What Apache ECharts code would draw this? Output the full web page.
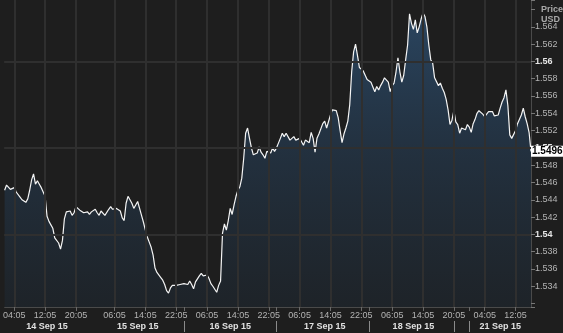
<!DOCTYPE html>
<html><head><meta charset="utf-8">
<script src="https://cdn.jsdelivr.net/npm/echarts@6/dist/echarts.min.js"></script>
<style>html,body{margin:0;padding:0;background:#1e1e1e}#c{width:563px;height:333px}</style>
</head><body><div id="c"></div>
<script>
// Session segments (30-minute bars): weekday run, then Sunday-evening / Monday run
const segmentStarts = ['2015-09-14T01:30', '2015-09-20T20:30'];
const segmentCounts = [234, 40];

// GBP/USD prices, one per 30 minutes
const sep14 = [1.5451,1.5457,1.5458,1.5452,1.5450,1.5454,1.5449,1.5448,1.5443,1.5440,
1.5440,1.5437,1.5441,1.5451,1.5463,1.5470,1.5458,1.5462,1.5458,1.5454,
1.5449,1.5444,1.5421,1.5415,1.5411,1.5407,1.5396,1.5394,1.5390,1.5383,
1.5393,1.5418,1.5426,1.5425,1.5427,1.5422,1.5425,1.5432,1.5433,1.5428,
1.5429,1.5425,1.5427,1.5426,1.5423];
const sep15 = [1.5426,1.5426,1.5429,1.5425,1.5422,1.5427,1.5427,1.5422,1.5423,1.5429,
1.5432,1.5429,1.5428,1.5430,1.5430,1.5427,1.5419,1.5416,1.5436,1.5444,
1.5443,1.5436,1.5430,1.5434,1.5438,1.5430,1.5422,1.5414,1.5405,1.5397,
1.5391,1.5385,1.5376,1.5361,1.5356,1.5354,1.5350,1.5347,1.5342,1.5335,
1.5332,1.5338,1.5341,1.5342,1.5341,1.5343,1.5342,1.5341];
const sep16 = [1.5343,1.5345,1.5342,1.5346,1.5342,1.5337,1.5345,1.5346,1.5352,1.5355,
1.5352,1.5350,1.5353,1.5349,1.5343,1.5340,1.5338,1.5333,1.5341,1.5346,
1.5401,1.5412,1.5405,1.5416,1.5430,1.5423,1.5434,1.5444,1.5451,1.5455,
1.5465,1.5488,1.5517,1.5523,1.5511,1.5500,1.5492,1.5494,1.5494,1.5501,
1.5495,1.5492,1.5488,1.5496,1.5495,1.5494,1.5500,1.5496];
const sep17 = [1.5500,1.5502,1.5511,1.5517,1.5513,1.5517,1.5515,1.5509,1.5511,1.5513,
1.5509,1.5508,1.5511,1.5507,1.5503,1.5509,1.5507,1.5506,1.5518,1.5511,
1.5495,1.5511,1.5516,1.5514,1.5528,1.5531,1.5523,1.5524,1.5538,1.5544,
1.5546,1.5543,1.5535,1.5520,1.5506,1.5516,1.5523,1.5531,1.5550,1.5588,
1.5611,1.5620,1.5607,1.5593,1.5591,1.5589,1.5587,1.5579];
const sep18 = [1.5580,1.5576,1.5574,1.5565,1.5571,1.5567,1.5572,1.5576,1.5581,1.5579,
1.5576,1.5565,1.5572,1.5575,1.5588,1.5604,1.5588,1.5576,1.5584,1.5602,
1.5619,1.5655,1.5644,1.5637,1.5648,1.5633,1.5640,1.5649,1.5656,1.5652,
1.5640,1.5619,1.5602,1.5598,1.5581,1.5579,1.5572,1.5575,1.5569,1.5564,
1.5556,1.5544,1.5527,1.5532,1.5543];
const sep21 = [1.5530,1.5527,1.5517,1.5523,1.5523,1.5521,1.5527,1.5524,1.5518,1.5528,
1.5533,1.5540,1.5543,1.5544,1.5539,1.5536,1.5539,1.5542,1.5544,1.5542,
1.5537,1.5536,1.5538,1.5546,1.5553,1.5558,1.5567,1.5549,1.5515,1.5511,
1.5511,1.5520,1.5528,1.5529,1.5538,1.5546,1.5536,1.5528,1.5518,1.5496];

// Time tick labels
const timeTickCats = ['2015-09-14 04:00','2015-09-14 12:00','2015-09-14 20:00','2015-09-15 06:00','2015-09-15 14:00','2015-09-15 22:00','2015-09-16 06:00','2015-09-16 14:00','2015-09-16 22:00','2015-09-17 06:00','2015-09-17 14:00','2015-09-17 22:00','2015-09-18 06:00','2015-09-18 14:00','2015-09-18 22:00','2015-09-21 04:00','2015-09-21 12:00'];
const timeTickText = ['04:05','12:05','20:05','06:05','14:05','22:05','06:05','14:05','22:05','06:05','14:05','22:05','06:05','14:05','20:05','04:05','12:05'];
// Day separators and day labels
const daySepCats = ['2015-09-16 00:00','2015-09-17 00:00','2015-09-18 00:00','2015-09-18 22:00','2015-09-21 00:00'];
const dayLabelCats = ['2015-09-14 12:30','2015-09-15 12:00','2015-09-16 12:00','2015-09-17 12:30','2015-09-18 11:30','2015-09-21 08:00'];
const dayLabelText = ['14 Sep 15','15 Sep 15','16 Sep 15','17 Sep 15','18 Sep 15','21 Sep 15'];
// Price ticks (grid rows)
const priceTicks = [1.534,1.536,1.538,1.540,1.542,1.544,1.546,1.548,1.550,1.552,1.554,1.556,1.558,1.560,1.562,1.564];
const lastPrice = 1.5496;

function pad(n){return (n<10?'0':'')+n;}
const categories = [];
segmentStarts.forEach((s, k) => {
  let t = Date.parse(s + ':00Z');
  for (let i = 0; i < segmentCounts[k]; i++) {
    const d = new Date(t);
    categories.push(d.getUTCFullYear()+'-'+pad(d.getUTCMonth()+1)+'-'+pad(d.getUTCDate())+' '+pad(d.getUTCHours())+':'+pad(d.getUTCMinutes()));
    t += 30*60*1000;
  }
});
const prices = [].concat(sep14, sep15, sep16, sep17, sep18, sep21);

const timeMap = {}; timeTickCats.forEach((c,i)=>timeMap[c]=timeTickText[i]);
const dayMap = {}; dayLabelCats.forEach((c,i)=>dayMap[c]=dayLabelText[i]);
const sepSet = new Set(daySepCats);
const isTime = (i, v) => Object.prototype.hasOwnProperty.call(timeMap, v);
const isDay = (i, v) => Object.prototype.hasOwnProperty.call(dayMap, v);
const isSep = (i, v) => sepSet.has(v);

const FONT = 'Liberation Sans';
const GRIDC = '#2f2f2f';
const gridLines = priceTicks.map(v => ({yAxis: v})).concat(timeTickCats.map(c => ({xAxis: c})));

const chart = echarts.init(document.getElementById('c'), null, {renderer:'canvas'});
chart.setOption({
  animation: false,
  backgroundColor: '#1e1e1e',
  title: {
    text: 'Price\nUSD', left: 536, top: 0,
    textStyle: {fontFamily: FONT, fontSize: 9, fontWeight: 'bold', color: '#a8a8a8', lineHeight: 10}
  },
  grid: {left: 0, right: 32, top: 0, bottom: 26},
  xAxis: [{
    type: 'category', data: categories, boundaryGap: false, position: 'bottom',
    axisLine: {show: true, lineStyle: {color: '#4a4a4a'}},
    axisTick: {show: true, length: 4, lineStyle: {color: '#6a6a6a'}, interval: (i, v) => isTime(i, v) || isSep(i, v)},
    axisLabel: {interval: isTime, formatter: v => timeMap[v] || '',
      color: '#b4b4b4', fontFamily: FONT, fontSize: 9, margin: 4},
    splitLine: {show: false}
  }, {
    type: 'category', data: categories, boundaryGap: false, position: 'bottom', offset: 14,
    axisLine: {show: false},
    axisTick: {show: true, length: 11, lineStyle: {color: '#8a8a8a'}, interval: isSep},
    axisLabel: {interval: isDay, formatter: v => dayMap[v] || '',
      color: '#e0e0e0', fontFamily: FONT, fontSize: 9, fontWeight: 'bold', margin: 1},
    splitLine: {show: false}
  }],
  yAxis: {
    type: 'value', position: 'right', min: 1.5316, max: 1.5671, splitNumber: 17,
    axisLine: {show: true, lineStyle: {color: '#4a4a4a'}},
    axisTick: {show: true, length: 4, lineStyle: {color: '#777'}},
    axisLabel: {
      color: '#b4b4b4', fontFamily: FONT, fontSize: 9, margin: 4,
      formatter: v => {
        const r = Math.round(v*1000)/1000;
        if (r < 1.534 || r > 1.564) return '';
        const s = String(r);
        return (Math.abs(r*100 - Math.round(r*100)) < 1e-6) ? '{b|' + s + '}' : s;
      },
      rich: {b: {fontFamily: FONT, fontSize: 9, fontWeight: 'bold', color: '#e6e6e6'}}
    },
    splitLine: {show: false}
  },
  series: [{
    type: 'line', data: prices, xAxisIndex: 0, showSymbol: false, symbol: 'none',
    lineStyle: {color: '#f4f4f4', width: 1.2},
    areaStyle: {color: new echarts.graphic.LinearGradient(0,0,0,1,[
      {offset: 0, color: 'rgba(50,95,140,0.85)'}, {offset: 0.5, color: 'rgba(40,72,105,0.6)'}, {offset: 1, color: 'rgba(30,45,60,0.5)'}])},
    markLine: {
      silent: true, symbol: ['none', 'none'], label: {show: false},
      lineStyle: {color: GRIDC, type: 'solid', width: 2, opacity: 1},
      emphasis: {disabled: true},
      data: gridLines
    },
    endLabel: {show: true, distance: 0, formatter: p => lastPrice.toFixed(4),
      backgroundColor: '#ffffff', color: '#000', fontFamily: FONT, fontSize: 10, fontWeight: 'bold', padding: [1,1,0,1]}
  }]
});
</script></body></html>
